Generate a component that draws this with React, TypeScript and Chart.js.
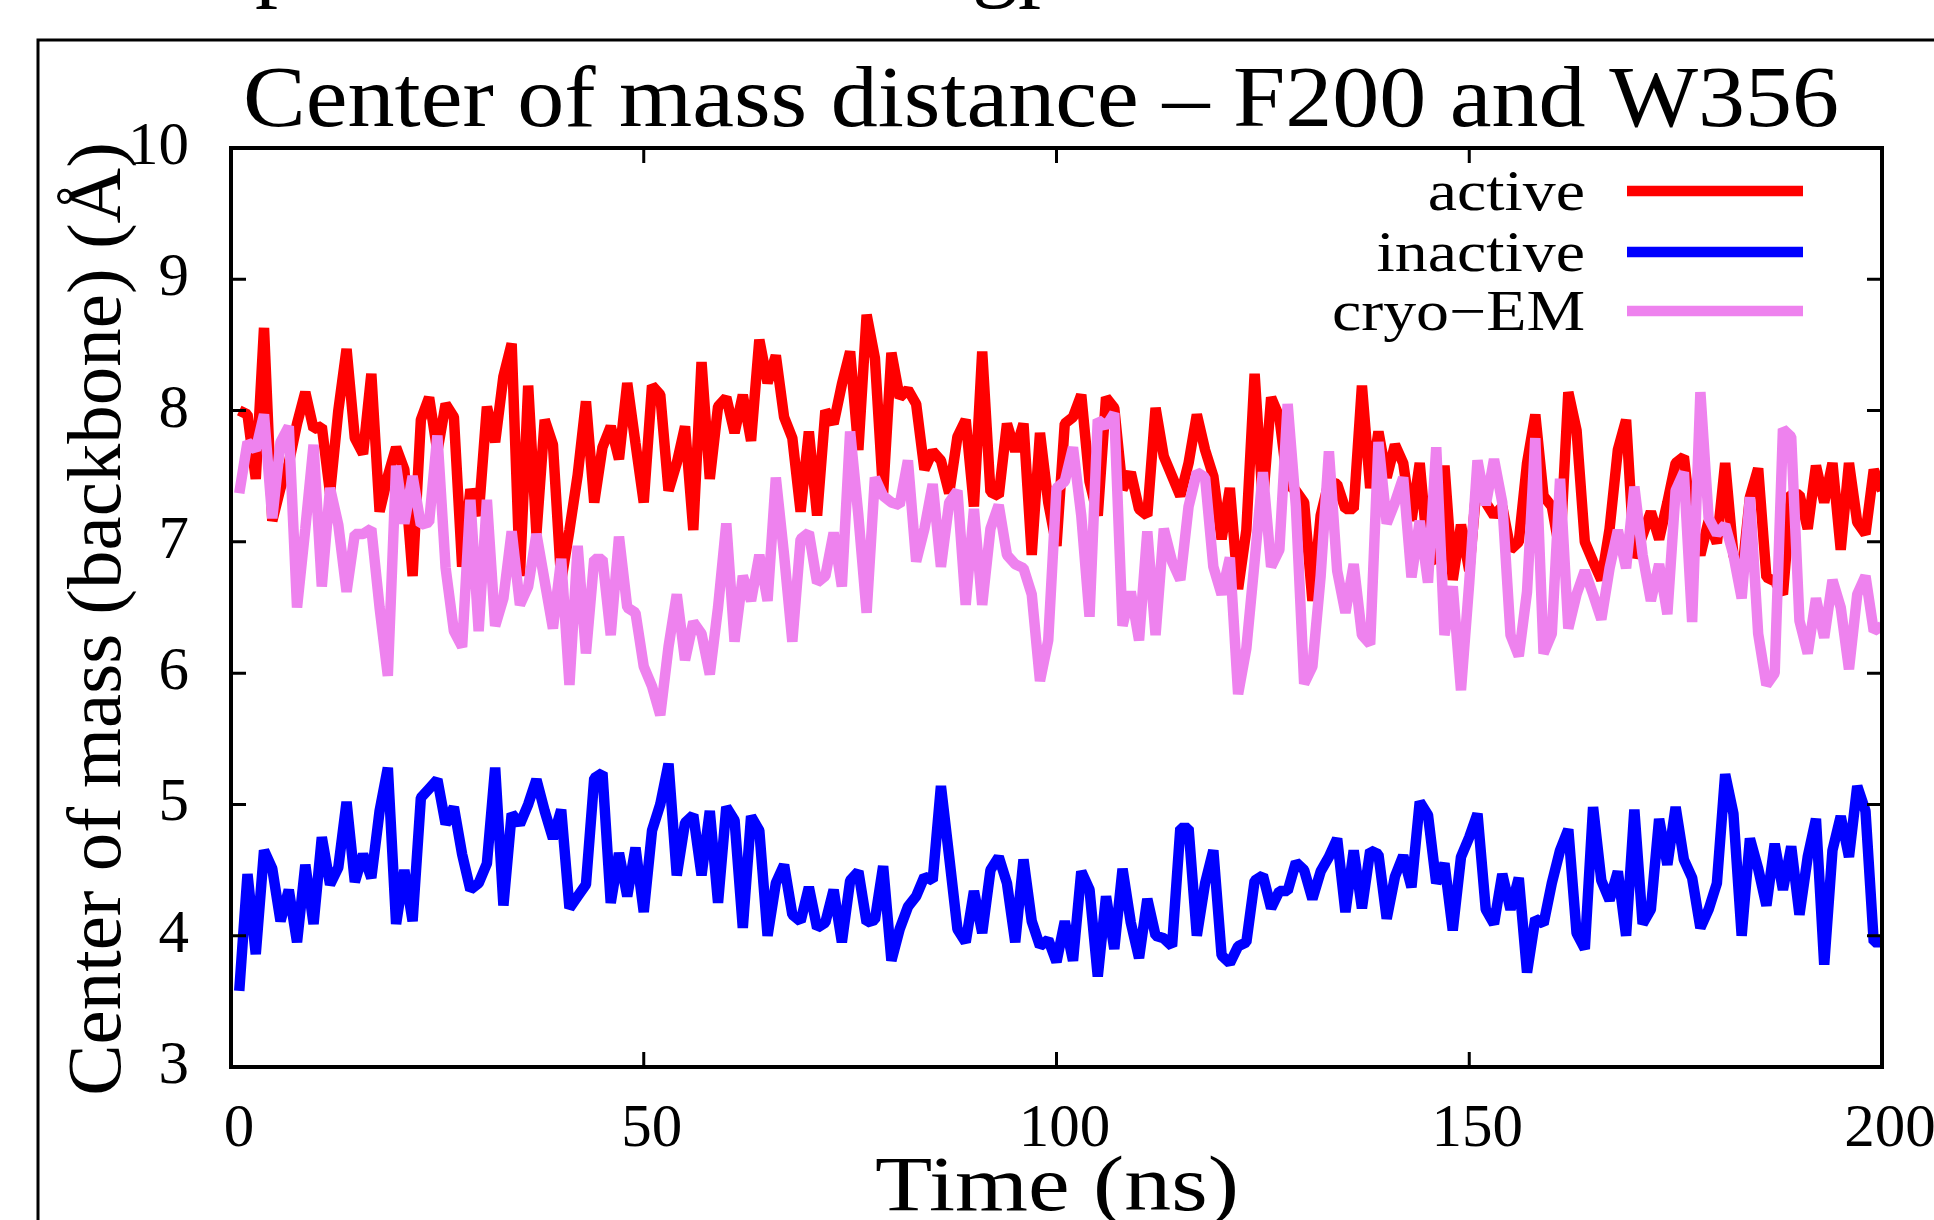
import React, { useEffect, useRef } from "react";
import { Chart, registerables } from "chart.js";

Chart.register(...registerables);

// ---------------- data ----------------
const TIME_NS: number[] = Array.from({ length: 200 }, (_, i) => i + 1);

const X_TICKS = [0, 50, 100, 150, 200];
const Y_TICKS = [3, 4, 5, 6, 7, 8, 9, 10];

const SERIES_NAMES = ["active", "inactive", "cryo−EM"];

const ACTIVE = [
  8.00, 7.97, 7.48, 8.63, 7.16, 7.41, 7.60, 7.90, 8.14, 7.86,
  7.88, 7.37, 8.00, 8.47, 7.79, 7.67, 8.28, 7.23, 7.50, 7.72,
  7.55, 6.74, 7.93, 8.10, 7.69, 8.05, 7.95, 6.81, 7.40, 7.20,
  8.03, 7.76, 8.26, 8.51, 6.74, 8.19, 7.06, 7.93, 7.74, 6.70,
  7.09, 7.51, 8.07, 7.30, 7.72, 7.88, 7.63, 8.21, 7.75, 7.30,
  8.19, 8.12, 7.39, 7.60, 7.88, 7.09, 8.37, 7.48, 8.03, 8.10,
  7.83, 8.12, 7.77, 8.54, 8.21, 8.42, 7.95, 7.79, 7.23, 7.84,
  7.20, 8.00, 7.90, 8.20, 8.45, 7.70, 8.73, 8.40, 7.37, 8.44,
  8.10, 8.16, 8.05, 7.55, 7.69, 7.62, 7.37, 7.80, 7.93, 7.27,
  8.45, 7.38, 7.35, 7.90, 7.69, 7.90, 6.90, 7.83, 7.30, 6.97,
  7.90, 7.95, 8.12, 7.46, 7.20, 8.10, 8.02, 7.40, 7.53, 7.25,
  7.20, 8.02, 7.65, 7.50, 7.35, 7.60, 7.97, 7.70, 7.50, 7.02,
  7.41, 6.64, 7.09, 8.28, 7.30, 8.10, 7.95, 7.44, 7.39, 7.30,
  6.55, 7.20, 7.46, 7.44, 7.25, 7.25, 8.19, 7.41, 7.84, 7.49,
  7.74, 7.60, 7.16, 7.60, 6.90, 6.85, 7.58, 6.71, 7.13, 6.78,
  7.50, 7.30, 7.20, 7.27, 6.94, 7.00, 7.60, 7.97, 7.35, 7.27,
  6.92, 8.14, 7.85, 7.00, 6.85, 6.71, 7.10, 7.70, 7.93, 6.88,
  7.05, 7.23, 7.02, 7.30, 7.60, 7.65, 7.10, 6.90, 7.16, 6.99,
  7.60, 6.90, 6.73, 7.34, 7.56, 6.73, 6.70, 6.60, 7.37, 7.36,
  7.10, 7.58, 7.30, 7.60, 6.94, 7.60, 7.15, 7.06, 7.55, 7.39,
];

const INACTIVE = [
  3.58, 4.47, 3.86, 4.65, 4.51, 4.11, 4.35, 3.95, 4.54, 4.09,
  4.75, 4.39, 4.52, 5.02, 4.41, 4.62, 4.44, 4.95, 5.28, 4.09,
  4.50, 4.11, 5.05, 5.12, 5.19, 4.85, 4.98, 4.62, 4.35, 4.40,
  4.55, 5.28, 4.23, 4.93, 4.85, 5.00, 5.19, 4.95, 4.74, 4.96,
  4.21, 4.30, 4.39, 5.20, 5.24, 4.25, 4.63, 4.30, 4.67, 4.18,
  4.80, 5.00, 5.31, 4.46, 4.86, 4.92, 4.46, 4.95, 4.25, 4.98,
  4.88, 4.06, 4.91, 4.80, 4.00, 4.40, 4.54, 4.16, 4.11, 4.37,
  4.06, 4.10, 4.35, 3.95, 4.42, 4.49, 4.10, 4.12, 4.53, 3.81,
  4.05, 4.22, 4.30, 4.45, 4.42, 5.14, 4.60, 4.05, 3.95, 4.34,
  4.02, 4.50, 4.60, 4.40, 3.95, 4.58, 4.11, 3.92, 3.97, 3.80,
  4.11, 3.81, 4.49, 4.35, 3.69, 4.30, 3.90, 4.51, 4.10, 3.83,
  4.28, 4.00, 3.98, 3.92, 4.82, 4.82, 4.00, 4.40, 4.65, 3.85,
  3.79, 3.92, 3.95, 4.42, 4.46, 4.21, 4.34, 4.34, 4.56, 4.50,
  4.28, 4.49, 4.60, 4.74, 4.18, 4.65, 4.21, 4.65, 4.62, 4.13,
  4.45, 4.61, 4.37, 5.02, 4.92, 4.40, 4.55, 4.04, 4.60, 4.75,
  4.93, 4.20, 4.09, 4.47, 4.20, 4.44, 3.72, 4.13, 4.09, 4.40,
  4.65, 4.81, 4.02, 3.90, 4.98, 4.42, 4.27, 4.49, 4.00, 4.96,
  4.09, 4.20, 4.89, 4.54, 4.98, 4.58, 4.44, 4.06, 4.20, 4.40,
  5.23, 4.93, 4.00, 4.74, 4.51, 4.23, 4.70, 4.35, 4.68, 4.16,
  4.60, 4.89, 3.78, 4.65, 4.91, 4.60, 5.14, 4.95, 3.95, 3.95,
];

const CRYO_EM = [
  7.37, 7.76, 7.70, 7.97, 7.18, 7.76, 7.88, 6.50, 7.10, 7.74,
  6.66, 7.41, 7.13, 6.62, 7.06, 7.06, 7.10, 6.50, 5.98, 7.58,
  7.14, 7.50, 7.13, 7.15, 7.81, 6.80, 6.32, 6.20, 7.32, 6.32,
  7.32, 6.36, 6.57, 7.08, 6.52, 6.66, 7.06, 6.70, 6.34, 6.87,
  5.91, 6.97, 6.15, 6.87, 6.87, 6.29, 7.04, 6.50, 6.46, 6.05,
  5.90, 5.68, 6.20, 6.60, 6.10, 6.39, 6.30, 5.99, 6.50, 7.14,
  6.24, 6.74, 6.55, 6.90, 6.55, 7.49, 6.90, 6.24, 7.02, 7.07,
  6.69, 6.74, 7.07, 6.66, 7.84, 7.20, 6.46, 7.49, 7.35, 7.30,
  7.28, 7.62, 6.85, 7.10, 7.44, 6.81, 7.30, 7.39, 6.52, 7.25,
  6.52, 7.10, 7.28, 6.90, 6.83, 6.80, 6.60, 5.94, 6.25, 7.41,
  7.46, 7.72, 7.20, 6.43, 7.93, 7.88, 7.98, 6.36, 6.62, 6.25,
  7.08, 6.29, 7.10, 6.85, 6.71, 7.27, 7.53, 7.49, 6.81, 6.60,
  6.88, 5.84, 6.19, 6.85, 7.53, 6.81, 6.94, 8.05, 7.27, 5.92,
  6.05, 6.74, 7.69, 6.78, 6.46, 6.83, 6.29, 6.22, 7.76, 7.14,
  7.30, 7.49, 6.73, 7.16, 6.69, 7.72, 6.29, 6.66, 5.87, 6.69,
  7.62, 7.28, 7.63, 7.30, 6.29, 6.13, 6.62, 7.79, 6.15, 6.30,
  7.48, 6.34, 6.60, 6.78, 6.60, 6.41, 6.80, 7.09, 6.80, 7.42,
  6.90, 6.55, 6.83, 6.45, 7.39, 7.53, 6.39, 8.14, 7.18, 7.06,
  7.13, 6.90, 6.57, 7.34, 6.30, 5.91, 6.00, 7.86, 7.80, 6.40,
  6.15, 6.57, 6.27, 6.71, 6.50, 6.03, 6.60, 6.74, 6.32, 6.36,
];

const TITLE = "Center of mass distance – F200 and W356";
const X_LABEL = "Time (ns)";
const Y_LABEL = "Center of mass (backbone) (Å)";

// ---------------- styles ----------------
const COLORS = ["#ff0000", "#0000ff", "#ee82ee"];
const SERIF = '"Liberation Serif", "Times New Roman", serif';
const W = 1934;
const H = 1220;

function drawStretched(
  ctx: CanvasRenderingContext2D,
  text: string,
  x: number,
  y: number,
  size: number,
  sx: number,
  align: CanvasTextAlign
) {
  ctx.save();
  ctx.font = `${size}px ${SERIF}`;
  ctx.translate(x, y);
  ctx.scale(sx, 1);
  ctx.textAlign = align;
  ctx.textBaseline = "alphabetic";
  ctx.fillStyle = "#000";
  ctx.fillText(text, 0, 0);
  ctx.restore();
}

function fitScale(ctx: CanvasRenderingContext2D, text: string, size: number, target: number) {
  ctx.save();
  ctx.font = `${size}px ${SERIF}`;
  const w = ctx.measureText(text).width;
  ctx.restore();
  return w > 0 ? target / w : 1;
}

const decorPlugin = {
  id: "decor",
  beforeDraw(chart: any) {
    const ctx = chart.ctx as CanvasRenderingContext2D;
    ctx.save();
    ctx.fillStyle = "#fff";
    ctx.fillRect(0, 0, chart.width, chart.height);
    ctx.restore();
  },
  afterDraw(chart: any) {
    const ctx = chart.ctx as CanvasRenderingContext2D;
    const ca = chart.chartArea;
    const xs = chart.scales.x;
    const ys = chart.scales.y;

    // outer frame (figure panel border)
    ctx.save();
    ctx.strokeStyle = "#000";
    ctx.lineWidth = 3;
    ctx.beginPath();
    ctx.moveTo(38, H + 5);
    ctx.lineTo(38, 40);
    ctx.lineTo(W + 5, 40);
    ctx.stroke();
    ctx.restore();

    // cut-off text fragments at the very top
    ctx.save();
    ctx.font = `92px ${SERIF}`;
    ctx.fillStyle = "#000";
    ctx.textBaseline = "alphabetic";
    ctx.textAlign = "left";
    ctx.fillText("p", 255, -10);
    ctx.fillText("gp", 972, -10);
    ctx.restore();

    // plot box
    ctx.save();
    ctx.strokeStyle = "#000";
    ctx.lineWidth = 4;
    ctx.strokeRect(ca.left, ca.top, ca.right - ca.left, ca.bottom - ca.top);
    // inward ticks, mirrored
    ctx.lineWidth = 3;
    const tl = 15;
    ctx.beginPath();
    for (const v of X_TICKS) {
      const px = xs.getPixelForValue(v);
      ctx.moveTo(px, ca.bottom);
      ctx.lineTo(px, ca.bottom - tl);
      ctx.moveTo(px, ca.top);
      ctx.lineTo(px, ca.top + tl);
    }
    for (const v of Y_TICKS) {
      const py = ys.getPixelForValue(v);
      ctx.moveTo(ca.left, py);
      ctx.lineTo(ca.left + tl, py);
      ctx.moveTo(ca.right, py);
      ctx.lineTo(ca.right - tl, py);
    }
    ctx.stroke();
    ctx.restore();

    // title
    drawStretched(ctx, TITLE, 1041, 126, 86, fitScale(ctx, TITLE, 86, 1596), "center");
    // x label
    drawStretched(ctx, X_LABEL, 1057, 1210, 78, fitScale(ctx, X_LABEL, 78, 364), "center");
    // y label (rotated)
    ctx.save();
    ctx.translate(120, 619);
    ctx.rotate(-Math.PI / 2);
    ctx.font = `77px ${SERIF}`;
    ctx.fillStyle = "#000";
    ctx.textAlign = "center";
    ctx.textBaseline = "alphabetic";
    ctx.fillText(Y_LABEL, 0, 0);
    ctx.restore();

    // legend
    const legSize = 56;
    const legSx = fitScale(ctx, SERIES_NAMES[2], legSize, 253);
    const rowsY = [191, 252, 311];
    SERIES_NAMES.forEach((name, i) => {
      drawStretched(ctx, name, 1585, rowsY[i] + 19, legSize, legSx, "right");
      ctx.save();
      ctx.strokeStyle = COLORS[i];
      ctx.lineWidth = 10.5;
      ctx.lineCap = "butt";
      ctx.beginPath();
      ctx.moveTo(1627, rowsY[i]);
      ctx.lineTo(1803, rowsY[i]);
      ctx.stroke();
      ctx.restore();
    });
  },
};

export default function App() {
  const canvasRef = useRef<HTMLCanvasElement | null>(null);

  useEffect(() => {
    const canvas = canvasRef.current;
    if (!canvas) return;
    const mk = (label: string, data: number[], color: string, order: number) => ({
      label,
      data,
      borderColor: color,
      backgroundColor: color,
      borderWidth: 10.5,
      pointRadius: 0,
      pointHoverRadius: 0,
      tension: 0,
      fill: false,
      borderJoinStyle: "bevel" as const,
      borderCapStyle: "butt" as const,
      order,
    });
    const chart = new Chart(canvas, {
      type: "line",
      data: {
        labels: TIME_NS,
        datasets: [
          mk(SERIES_NAMES[0], ACTIVE, COLORS[0], 2),
          mk(SERIES_NAMES[1], INACTIVE, COLORS[1], 1),
          mk(SERIES_NAMES[2], CRYO_EM, COLORS[2], 0),
        ],
      },
      options: {
        responsive: false,
        maintainAspectRatio: false,
        devicePixelRatio: 1,
        animation: false,
        events: [],
        layout: { padding: { top: 148, right: 52, left: 0, bottom: 0 } },
        plugins: {
          legend: { display: false },
          title: { display: false },
          tooltip: { enabled: false },
        },
        scales: {
          x: {
            type: "linear",
            min: 0,
            max: 200,
            afterBuildTicks: (scale: any) => {
              scale.ticks = X_TICKS.map((v) => ({ value: v }));
            },
            afterFit: (scale: any) => {
              scale.height = H - 1067;
              scale.paddingLeft = 0;
              scale.paddingRight = 0;
            },
            grid: { display: false, drawTicks: false },
            border: { display: false },
            ticks: {
              color: "#000",
              font: { family: SERIF, size: 61 },
              padding: 26,
              labelOffset: 8,
              maxRotation: 0,
              autoSkip: false,
            },
          },
          y: {
            type: "linear",
            min: 3,
            max: 10,
            afterBuildTicks: (scale: any) => {
              scale.ticks = Y_TICKS.map((v) => ({ value: v }));
            },
            afterFit: (scale: any) => {
              scale.width = 231;
              scale.paddingTop = 0;
              scale.paddingBottom = 0;
            },
            grid: { display: false, drawTicks: false },
            border: { display: false },
            ticks: {
              color: "#000",
              font: { family: SERIF, size: 61 },
              padding: 42,
              autoSkip: false,
            },
          },
        },
      },
      plugins: [decorPlugin],
    });
    return () => chart.destroy();
  }, []);

  return (
    <div style={{ position: "absolute", left: 0, top: 0, width: W, height: H, background: "#fff" }}>
      <canvas ref={canvasRef} width={W} height={H} style={{ display: "block", width: W, height: H }} />
    </div>
  );
}
